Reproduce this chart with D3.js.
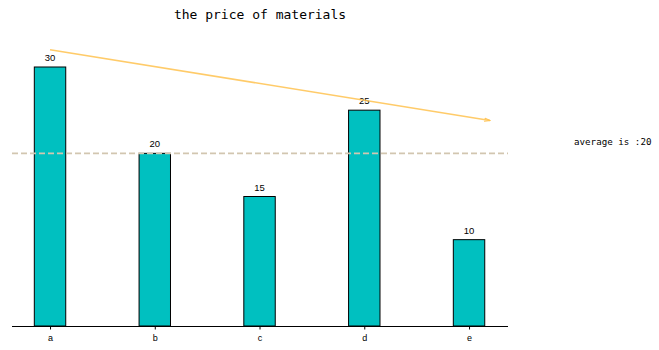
<!DOCTYPE html>
<html>
<head>
<meta charset="utf-8">
<script src="https://cdn.jsdelivr.net/npm/d3@7"></script>
<style>
  body { margin: 0; background: #fff; }
  svg { display: block; }
</style>
</head>
<body>
<div id="chart"></div>
<script>
const categories = ['a', 'b', 'c', 'd', 'e']
const prices = [30, 20, 15, 25, 10]
const average = 20
const trendFrom = [0, 32]
const trendTo = [4.2, 23.8]

const width = 659, height = 350

let svg = d3.select('#chart')
            .append('svg')
            .attr('width', width)
            .attr('height', height)

// x is linear like matplotlib, so bars sit at 0..4
let x = d3.scaleLinear().domain([-0.363, 4.372]).range([12, 508])
let y = d3.scaleLinear().domain([0, 30]).range([326, 67])
const barW = x(0.3) - x(0)

svg.append('text')
    .attr('x', 260)
    .attr('y', 19)
    .attr('text-anchor', 'middle')
    .attr('font-family', 'DejaVu Sans Mono, monospace')
    .attr('font-size', 13)
    .text('the price of materials')

// bars
svg.selectAll('rect.bar')
    .data(prices)
    .join('rect')
    .attr('class', 'bar')
    .attr('x', (d, i) => x(i) - barW / 2)
    .attr('y', d => y(d))
    .attr('width', barW)
    .attr('height', d => y(0) - y(d))
    .attr('fill', '#00c0c0')
    .attr('stroke', '#000')
    .attr('stroke-width', 1)

// value labels
svg.selectAll('text.val')
    .data(prices)
    .join('text')
    .attr('class', 'val')
    .attr('x', (d, i) => x(i))
    .attr('y', d => y(d) - 6)
    .attr('text-anchor', 'middle')
    .attr('font-family', 'Liberation Sans Narrow, Liberation Sans, sans-serif')
    .attr('font-size', 9.5)
    .text(d => d)

// average line
svg.append('line')
    .attr('x1', 12).attr('x2', 508)
    .attr('y1', y(average)).attr('y2', y(average))
    .attr('stroke', '#d2c6b0')
    .attr('stroke-width', 1.6)
    .attr('stroke-dasharray', '6,3')

svg.append('text')
    .attr('x', 574)
    .attr('y', 145)
    .attr('font-family', 'DejaVu Sans Mono, monospace')
    .attr('font-size', 9.2)
    .text('average is :' + average)

// trend arrow
svg.append('defs').append('marker')
    .attr('id', 'head')
    .attr('viewBox', '0 0 10 10')
    .attr('refX', 9).attr('refY', 5)
    .attr('markerWidth', 4).attr('markerHeight', 4)
    .attr('orient', 'auto')
    .append('path')
    .attr('d', 'M0,2.5 L10,5 L0,7.5')
    .attr('fill', 'none')
    .attr('stroke', '#ffc24f')
    .attr('stroke-width', 1.5)

svg.append('line')
    .attr('x1', x(trendFrom[0])).attr('y1', y(trendFrom[1]))
    .attr('x2', x(trendTo[0])).attr('y2', y(trendTo[1]))
    .attr('stroke', '#ffc24f')
    .attr('stroke-opacity', 0.85)
    .attr('stroke-width', 1.6)
    .attr('marker-end', 'url(#head)')

// x axis
let axis = svg.append('g')
    .attr('transform', `translate(0,${y(0)})`)
    .call(d3.axisBottom(x)
        .tickValues(d3.range(categories.length))
        .tickFormat(i => categories[i])
        .tickSize(3.5)
        .tickPadding(5))
axis.select('.domain').attr('d', 'M12,0.5H508').attr('stroke-width', 1.2)
axis.selectAll('text')
    .attr('font-family', 'Liberation Sans, sans-serif')
    .attr('font-size', 9)
    .attr('fill', '#000')
</script>
</body>
</html>
